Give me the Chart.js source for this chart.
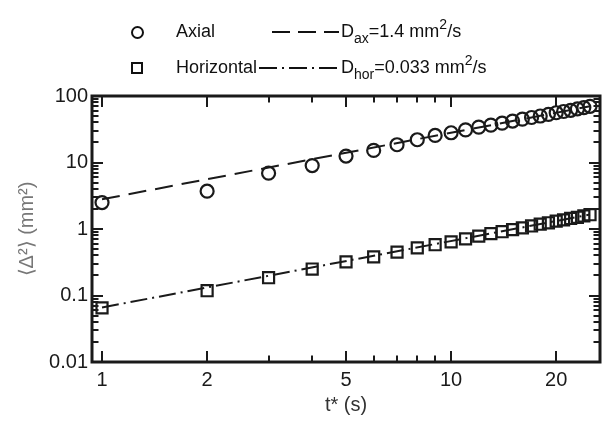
<!DOCTYPE html>
<html>
<head>
<meta charset="utf-8">
<script src="https://cdn.jsdelivr.net/npm/chart.js@4.4.1/dist/chart.umd.min.js"></script>
<style>
  body { margin: 0; background: #fff; }
  #wrap { position: relative; width: 610px; height: 421px; font-family: "Liberation Sans", Arial, sans-serif; color: #111; }
  #chart { position: absolute; left: 0; top: 0; }
  .lbl { position: absolute; font-size: 18px; line-height: 22px; white-space: nowrap; }
  .lbl sub { font-size: 14px; line-height: 0; vertical-align: -6px; }
  .lbl sup { font-size: 14px; line-height: 0; vertical-align: 8px; }
  .mk { position: absolute; box-sizing: border-box; border: 2.5px solid #111; }
  .circ { width: 13px; height: 13px; border-radius: 50%; }
  .sq { width: 12px; height: 12px; }
  svg { position: absolute; }
</style>
</head>
<body>
<div id="wrap">
  <canvas id="chart" width="610" height="421"></canvas>
  <!-- legend done by hand, chart.js legend can't do sub/superscripts -->
  <div class="mk circ" style="left:131px;top:26px"></div>
  <span class="lbl" style="left:176px;top:20px">Axial</span>
  <svg style="left:272px;top:27px" width="68" height="10"><line x1="0" y1="5" x2="67" y2="5" stroke="#111" stroke-width="2" stroke-dasharray="18 8"/></svg>
  <span class="lbl" style="left:341px;top:20px">D<sub>ax</sub>=1.4 mm<sup>2</sup>/s</span>

  <div class="mk sq" style="left:131px;top:62px"></div>
  <span class="lbl" style="left:176px;top:56px">Horizontal</span>
  <svg style="left:259px;top:63px" width="82" height="10"><line x1="0" y1="5" x2="80" y2="5" stroke="#111" stroke-width="2" stroke-dasharray="18 5 2 5"/></svg>
  <span class="lbl" style="left:341px;top:56px">D<sub>hor</sub>=0.033 mm<sup>2</sup>/s</span>
</div>
<script>
var tSec = [1, 2, 3, 4, 5, 6, 7, 8, 9, 10, 11, 12, 13, 14, 15, 16, 17, 18, 19, 20, 21, 22, 23, 24, 25];
var axialMsd = [2.5, 3.7, 6.9, 9.0, 12.5, 15.2, 18.5, 22, 25.5, 28, 31, 34, 36.5, 39, 42, 45, 47.5, 50, 53, 56, 58.5, 61, 64, 67, 70];
var horizMsd = [0.065, 0.118, 0.185, 0.25, 0.32, 0.38, 0.45, 0.52, 0.58, 0.64, 0.71, 0.78, 0.85, 0.91, 0.98, 1.04, 1.11, 1.18, 1.24, 1.31, 1.37, 1.44, 1.5, 1.57, 1.64];
// fits: <D^2> = 2 D t
var fitT = [1, 25];
var fitAx = [2.8, 70];
var fitHor = [0.066, 1.65];

var xTicks = [1, 2, 5, 10, 20];
var xMinor = [3, 4, 6, 7, 8, 9];
var yTicks = [0.01, 0.1, 1, 10, 100];

var fontFam = '"Liberation Sans", Arial, sans-serif';
var ink = '#1a1a1a';

function pts(xs, ys) {
    return xs.map(function(x, i) { return {x: x, y: ys[i]}; });
}

// box + inward ticks on all four sides
var frameTicks = {
    id: 'frameTicks',
    afterDraw: function(chart) {
        var ctx = chart.ctx, a = chart.chartArea;
        var xs = chart.scales.x, ys = chart.scales.y;
        var big = 11, small = 6.5;
        ctx.save();
        ctx.strokeStyle = ink;
        ctx.lineWidth = 2;
        ctx.beginPath();
        xTicks.concat(xMinor).forEach(function(v) {
            var px = Math.round(xs.getPixelForValue(v));
            var len = xTicks.indexOf(v) >= 0 ? big : small;
            ctx.moveTo(px, a.bottom); ctx.lineTo(px, a.bottom - len);
            ctx.moveTo(px, a.top); ctx.lineTo(px, a.top + len);
        });
        yTicks.forEach(function(d, i) {
            var py = Math.round(ys.getPixelForValue(d));
            ctx.moveTo(a.left, py); ctx.lineTo(a.left + big, py);
            ctx.moveTo(a.right, py); ctx.lineTo(a.right - big, py);
            if (i == yTicks.length - 1) return;
            for (var k = 2; k <= 9; k++) {
                var q = Math.round(ys.getPixelForValue(d * k));
                ctx.moveTo(a.left, q); ctx.lineTo(a.left + small, q);
                ctx.moveTo(a.right, q); ctx.lineTo(a.right - small, q);
            }
        });
        ctx.stroke();
        ctx.lineWidth = 3;
        ctx.strokeRect(a.left, a.top, a.right - a.left, a.bottom - a.top);
        ctx.restore();
    }
};

new Chart(document.getElementById('chart'), {
    type: 'line',
    data: {
        datasets: [
            {
                label: 'Axial',
                data: pts(tSec, axialMsd),
                showLine: false,
                pointStyle: 'circle',
                pointRadius: 6.5,
                pointBorderWidth: 2.2,
                pointBorderColor: ink,
                pointBackgroundColor: 'rgba(0,0,0,0)'
            },
            {
                label: 'Horizontal',
                data: pts(tSec, horizMsd),
                showLine: false,
                pointStyle: 'rect',
                pointRadius: 7.8,
                pointBorderWidth: 2.2,
                pointBorderColor: ink,
                pointBackgroundColor: 'rgba(0,0,0,0)'
            },
            {
                label: 'D_ax fit',
                data: pts(fitT, fitAx),
                borderColor: ink,
                borderWidth: 2,
                borderDash: [18, 9],
                pointRadius: 0,
                fill: false
            },
            {
                label: 'D_hor fit',
                data: pts(fitT, fitHor),
                borderColor: ink,
                borderWidth: 2,
                borderDash: [17, 5, 2, 5],
                pointRadius: 0,
                fill: false
            }
        ]
    },
    options: {
        responsive: false,
        animation: false,
        layout: { padding: { top: 96, right: 10, left: 0, bottom: 0 } },
        plugins: { legend: { display: false }, tooltip: { enabled: false } },
        scales: {
            x: {
                type: 'logarithmic',
                min: 0.936,
                max: 26.7,
                grid: { display: false, drawTicks: false },
                border: { display: false },
                afterBuildTicks: function(s) { s.ticks = xTicks.map(function(v) { return {value: v}; }); },
                afterFit: function(s) { s.height = 59; },
                ticks: {
                    autoSkip: false, maxRotation: 0, padding: 6, color: ink,
                    font: { family: fontFam, size: 20 },
                    callback: function(v) { return String(v); }
                },
                title: {
                    display: true, text: 't* (s)', color: '#333',
                    font: { family: fontFam, size: 20 },
                    padding: { top: 0, bottom: 4 }
                }
            },
            y: {
                type: 'logarithmic',
                min: 0.01,
                max: 100,
                grid: { display: false, drawTicks: false },
                border: { display: false },
                afterBuildTicks: function(s) { s.ticks = yTicks.map(function(v) { return {value: v}; }); },
                afterFit: function(s) { s.width = 92; },
                ticks: {
                    autoSkip: false, padding: 4, color: ink,
                    font: { family: fontFam, size: 20 },
                    callback: function(v) { return String(v); }
                },
                title: {
                    display: true, text: '⟨Δ²⟩ (mm²)', color: '#777',
                    font: { family: fontFam, size: 20 },
                    padding: { top: 15, bottom: 0 }
                }
            }
        }
    },
    plugins: [frameTicks]
});
</script>
</body>
</html>
